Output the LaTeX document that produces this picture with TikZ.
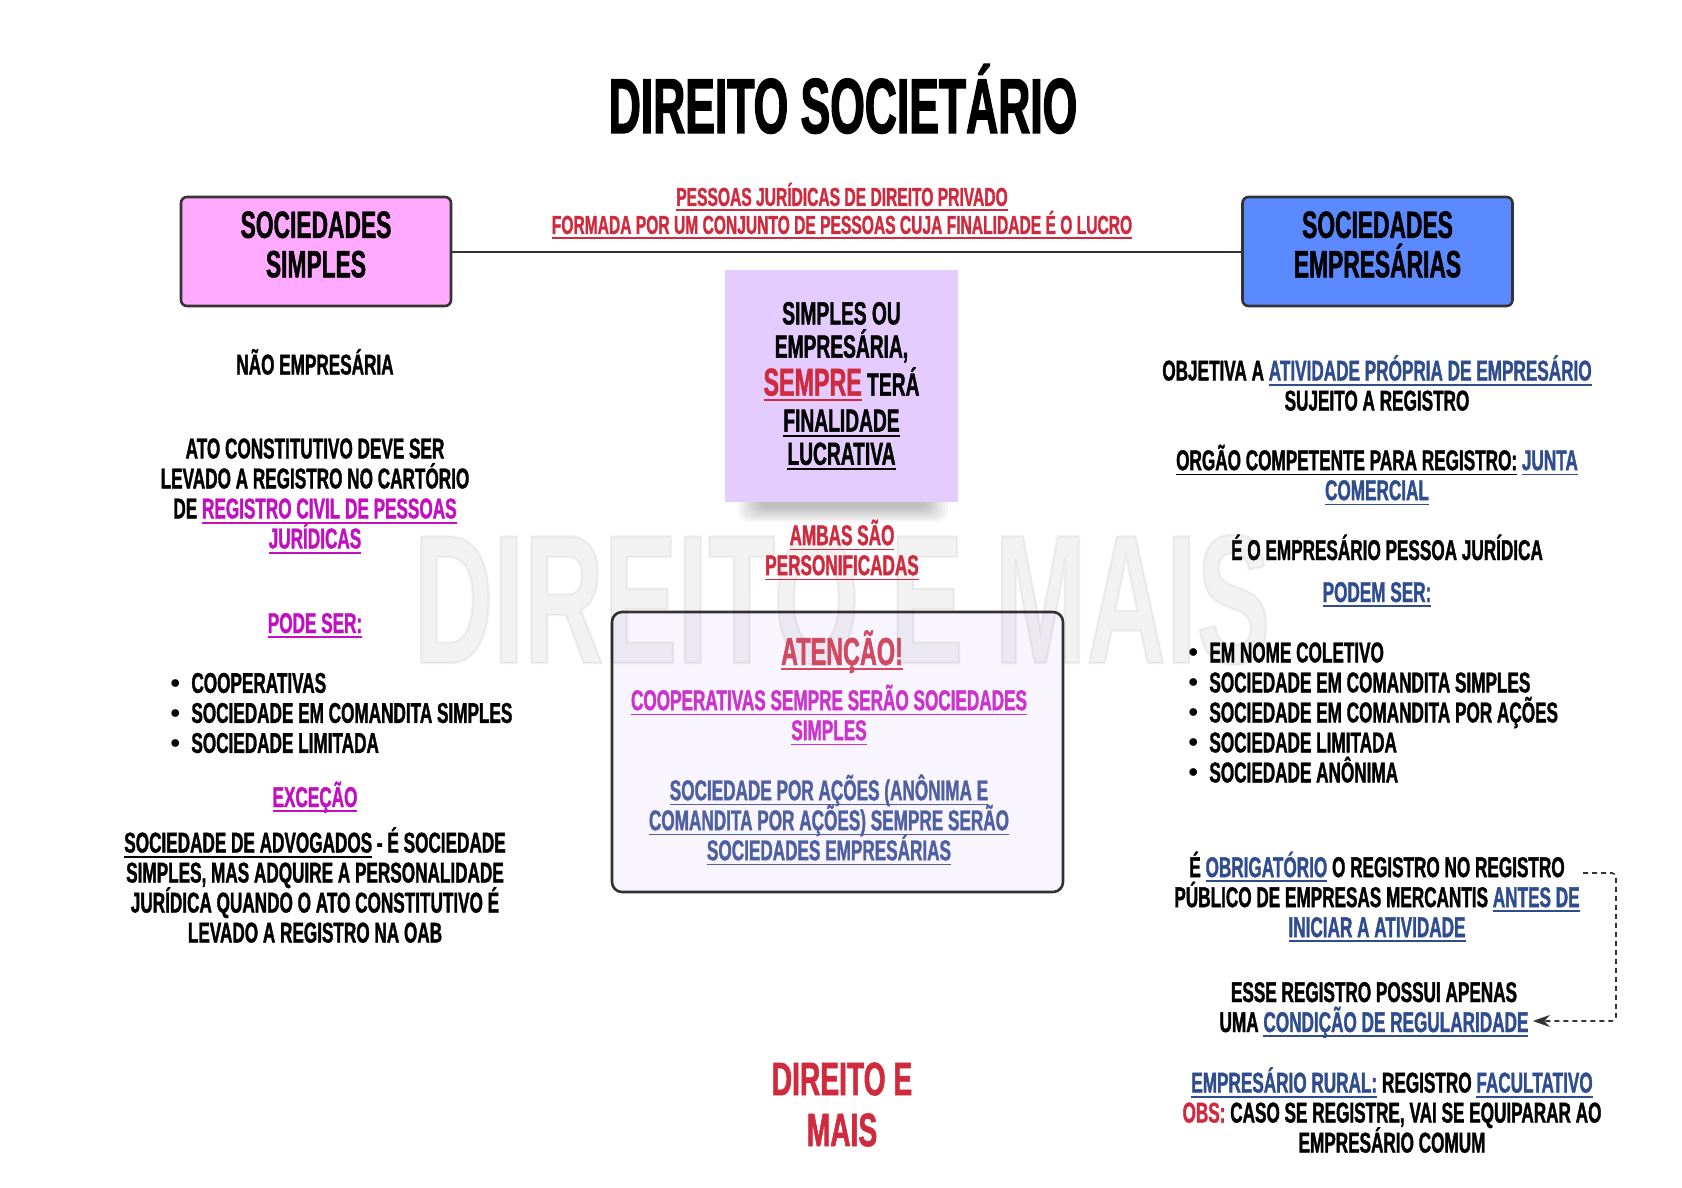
\documentclass[tikz,border=0pt]{standalone}
\usepackage{fontspec}
\setmainfont{Liberation Sans}[FakeStretch=0.6, FakeBold=1.2]
\newfontfamily\titlefont{Liberation Sans}[FakeStretch=0.57, FakeBold=1.5]
\usetikzlibrary{arrows.meta, calc}

\definecolor{borda}{HTML}{333333}
\definecolor{rosa}{HTML}{FFAAFF}
\definecolor{azulcaixa}{HTML}{5B89FF}
\definecolor{lilas}{HTML}{E5CCFF}
\definecolor{fundoatencao}{HTML}{F9F5FF}
\definecolor{vermelho}{HTML}{CF2A3E}
\definecolor{rosaatencao}{HTML}{D14A62}
\definecolor{magenta}{HTML}{C20FC0}
\definecolor{magentaclaro}{HTML}{CC33CC}
\definecolor{azul}{HTML}{2F4C8E}
\definecolor{azulclaro}{HTML}{4E5FA2}

\lineskiplimit=-100pt

% sublinhado simples e trechos coloridos
\newsavebox{\caixasub}
\newcommand{\sublinha}[1]{\sbox{\caixasub}{#1}%
    \rlap{\rule[-2.6pt]{\wd\caixasub}{0.9pt}}\usebox{\caixasub}}
\newcommand{\vm}[1]{\textcolor{vermelho}{\sublinha{#1}}}
\newcommand{\mg}[1]{\textcolor{magenta}{\sublinha{#1}}}
\newcommand{\mgc}[1]{\textcolor{magentaclaro}{\sublinha{#1}}}
\newcommand{\az}[1]{\textcolor{azul}{\sublinha{#1}}}
\newcommand{\azc}[1]{\textcolor{azulclaro}{\sublinha{#1}}}
\newcommand{\bul}{\makebox[10.5pt][l]{\raisebox{2.2pt}{\fontsize{10}{10}\selectfont$\bullet$}}}

\begin{document}
\begin{tikzpicture}[
    x=0.5pt, y=-0.5pt,
    % estilos das caixas
    caixa/.style    = {rectangle, rounded corners=3pt, draw=borda, line width=1.3pt,
                       minimum width=135pt, minimum height=54.5pt},
    titcaixa/.style = {align=center, inner sep=0pt,
                       font=\bfseries\fontsize{19}{19.7}\selectfont},
    lucrobox/.style = {rectangle, fill=lilas, minimum width=116.5pt,
                       minimum height=116pt, align=center, inner sep=0pt,
                       font=\bfseries\fontsize{16}{16.6}\selectfont},
    atencaobox/.style = {rectangle, rounded corners=5pt, draw=borda, line width=1.3pt,
                       fill=fundoatencao, minimum width=225.5pt, minimum height=140pt},
    texto/.style    = {align=center, inner sep=0pt,
                       font=\bfseries\fontsize{14.3}{15}\selectfont},
    lista/.style    = {align=left, inner sep=0pt, anchor=west,
                       font=\bfseries\fontsize{14.3}{15}\selectfont},
    ligacao/.style  = {line width=1pt, borda},
    seta/.style     = {-{Stealth[length=8.5pt, width=6pt]}, dash pattern=on 2.5pt off 2pt,
                       line width=0.8pt, borda, rounded corners=2pt},
]
\useasboundingbox (0,0) rectangle (1682,1188);

% ── Título ────────────────────────────────────────────────────────────────────
\node[anchor=base, inner sep=0pt, font=\titlefont\bfseries\fontsize{39}{40}\selectfont]
    (titulo) at (843,133) {DIREITO SOCIETÁRIO};

% ── Caixas principais ────────────────────────────────────────────────────────
\node[caixa, fill=rosa]      (simples)     at (316,251.5)   {};
\node[caixa, fill=azulcaixa] (empresarias) at (1377.5,251.5) {};
\node[titcaixa] (simplestxt)     at (316,244.5)  {SOCIEDADES\\SIMPLES};
\node[titcaixa] (empresariastxt) at (1377.5,244.5) {SOCIEDADES\\EMPRESÁRIAS};
\draw[ligacao] (simples) -- (empresarias);

\node[texto, font=\bfseries\fontsize{13}{14}\selectfont] (pessoas) at (842,211)
    {\vm{PESSOAS JURÍDICAS DE DIREITO PRIVADO}\\
     \vm{FORMADA POR UM CONJUNTO DE PESSOAS CUJA FINALIDADE É O LUCRO}};

% ── Centro ───────────────────────────────────────────────────────────────────
\foreach \k in {0,...,7}
    \fill[black, opacity=0.035, rounded corners=5pt]
        (738+3*\k,494) rectangle (948-3*\k,522-2*\k);
\node[lucrobox] (lucro) at (841.5,386)
    {SIMPLES OU\\EMPRESÁRIA,\\[2.4pt]
     {\fontsize{19.4}{16.6}\selectfont\vm{SEMPRE}} TERÁ\\[1.4pt]
     \sublinha{FINALIDADE}\\\sublinha{LUCRATIVA}};

\node[atencaobox] (atencao) at (837.5,752) {};

% marca d'água
\node[anchor=base, inner sep=0pt, opacity=0.05,
      font=\bfseries\fontsize{92}{92}\selectfont] (fundo) at (842,663) {DIREITO E MAIS};

\node[texto] (ambas) at (842,550) {\vm{AMBAS SÃO}\\\vm{PERSONIFICADAS}};

\node[texto, anchor=base, text=rosaatencao, font=\bfseries\fontsize{19.5}{20}\selectfont]
    (atencaotit) at (842,665) {\sublinha{ATENÇÃO!}};
\node[texto] (cooperativas) at (829,715)
    {\mgc{COOPERATIVAS SEMPRE SERÃO SOCIEDADES}\\\mgc{SIMPLES}};
\node[texto] (acoes) at (829,820)
    {\azc{SOCIEDADE POR AÇÕES (ANÔNIMA E}\\
     \azc{COMANDITA POR AÇÕES) SEMPRE SERÃO}\\
     \azc{SOCIEDADES EMPRESÁRIAS}};

\node[texto, text=vermelho, font=\bfseries\fontsize{23.5}{25.5}\selectfont]
    (marca) at (842,1104.5) {DIREITO E\\MAIS};

% ── Coluna esquerda : sociedades simples ─────────────────────────────────────
\node[texto, anchor=base] (nao) at (315,374.5) {NÃO EMPRESÁRIA};
\node[texto] (ato) at (315,496)
    {ATO CONSTITUTIVO DEVE SER\\LEVADO A REGISTRO NO CARTÓRIO\\
     DE \mg{REGISTRO CIVIL DE PESSOAS}\\\mg{JURÍDICAS}};
\node[texto, anchor=base] (podeser) at (315,633) {\mg{PODE SER:}};
\node[lista] (tiposss) at (170,713)
    {\bul COOPERATIVAS\\\bul SOCIEDADE EM COMANDITA SIMPLES\\\bul SOCIEDADE LIMITADA};
\node[texto, anchor=base] (excecao) at (315,807) {\mg{EXCEÇÃO}};
\node[texto] (advogados) at (315,885)
    {\sublinha{SOCIEDADE DE ADVOGADOS} - É SOCIEDADE\\
     SIMPLES, MAS ADQUIRE A PERSONALIDADE\\
     JURÍDICA QUANDO O ATO CONSTITUTIVO É\\
     LEVADO A REGISTRO NA OAB};

% ── Coluna direita : sociedades empresárias ──────────────────────────────────
\node[texto] (objetiva) at (1377,383)
    {OBJETIVA A \az{ATIVIDADE PRÓPRIA DE EMPRESÁRIO}\\SUJEITO A REGISTRO};
\node[texto] (orgao) at (1377,475)
    {\sublinha{ORGÃO COMPETENTE PARA REGISTRO:} \az{JUNTA}\\\az{COMERCIAL}};
\node[texto, anchor=base] (pj) at (1387,560) {É O EMPRESÁRIO PESSOA JURÍDICA};
\node[texto, anchor=base] (podem) at (1377,602) {\az{PODEM SER:}};
\node[lista] (tiposse) at (1188,712.5)
    {\bul EM NOME COLETIVO\\\bul SOCIEDADE EM COMANDITA SIMPLES\\
     \bul SOCIEDADE EM COMANDITA POR AÇÕES\\\bul SOCIEDADE LIMITADA\\
     \bul SOCIEDADE ANÔNIMA};
\node[texto] (obrig) at (1377,897)
    {É \az{OBRIGATÓRIO} O REGISTRO NO REGISTRO\\
     PÚBLICO DE EMPRESAS MERCANTIS \az{ANTES DE}\\
     \az{INICIAR A ATIVIDADE}};
\node[texto] (regular) at (1374,1010)
    {ESSE REGISTRO POSSUI APENAS\\UMA \az{CONDIÇÃO DE REGULARIDADE}};
\node[texto] (rural) at (1392,1110)
    {\az{EMPRESÁRIO RURAL:} REGISTRO \az{FACULTATIVO}\\
     \textcolor{vermelho}{OBS:} CASO SE REGISTRE, VAI SE EQUIPARAR AO\\
     EMPRESÁRIO COMUM};

% ── Seta tracejada ───────────────────────────────────────────────────────────
\coordinate (canto1) at (1616,873);
\coordinate (canto2) at (1616,1021);
\draw[seta] ($(obrig.east |- canto1)+(3,0)$) -- (canto1) -- (canto2)
    -- ($(regular.east |- canto2)+(4,0)$);

\end{tikzpicture}
\end{document}
